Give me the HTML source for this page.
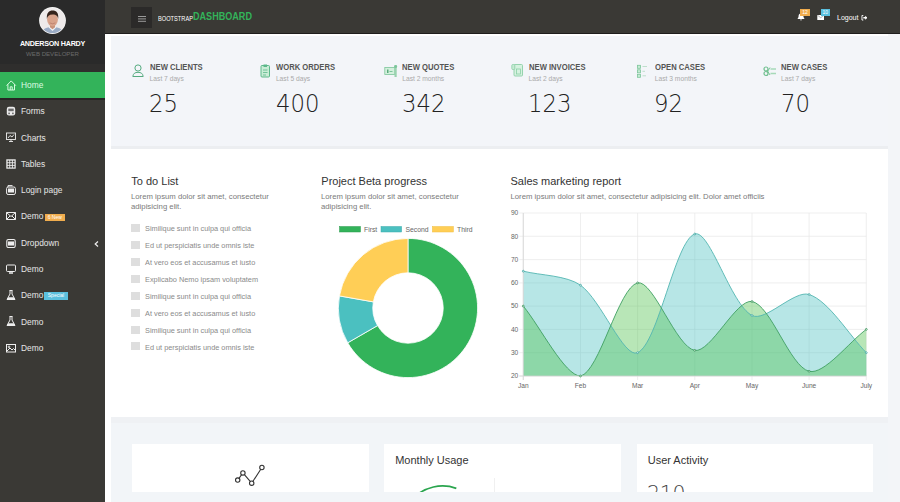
<!DOCTYPE html>
<html><head><meta charset="utf-8"><title>Dashboard</title><style>
*{box-sizing:border-box;margin:0;padding:0}
html,body{width:900px;height:502px;overflow:hidden}
body{position:relative;background:#f3f5f8;font-family:"Liberation Sans",Arial,sans-serif;color:#333}
.a{position:absolute;white-space:nowrap;line-height:1}
.mi{position:absolute;left:0;width:105px;height:26px}
.mt{position:absolute;left:21px;font-size:8.4px;color:#e8e8e8;white-space:nowrap;line-height:1}
.mi svg{position:absolute;left:6px}
svg{display:block}
.badge{position:absolute;color:#fff;font-size:5px;line-height:7.5px;height:7.5px;text-align:center}
.sh{position:absolute;font-size:9px;font-weight:bold;color:#555;white-space:nowrap;line-height:1;transform-origin:0 0}
.ss{position:absolute;font-size:6.7px;color:#aaa;white-space:nowrap;line-height:1}
.sn{position:absolute;font-family:"DejaVu Sans",sans-serif;font-weight:200;font-size:24.5px;color:#222;white-space:nowrap;line-height:1;transform-origin:0 0}
.ct{position:absolute;font-size:11px;color:#333;white-space:nowrap;line-height:1}
.cp{position:absolute;font-size:7.75px;color:#7a7a7a;line-height:10.5px;white-space:nowrap}
.td{position:absolute;font-size:7.35px;color:#8a8a8a;white-space:nowrap;line-height:1}
.cb{position:absolute;width:8.4px;height:8px;background:#dedede}
.bc{position:absolute;top:444px;height:48px;background:#fff}
</style></head><body>
<div class="a" style="left:0;top:0;width:105px;height:502px;background:#3a3935"></div>
<div class="a" style="left:0;top:0;width:105px;height:64px;background:#2a2a2a"></div>
<svg class="a" style="left:39px;top:7px" width="27" height="27" viewBox="0 0 27 27">
 <defs><clipPath id="av"><circle cx="13.5" cy="13.5" r="12.6"/></clipPath></defs>
 <circle cx="13.5" cy="13.5" r="13.4" fill="#f4f4f4"/>
 <g clip-path="url(#av)">
  <rect width="27" height="27" fill="#eeeaea"/>
  <path d="M2.5 27 C3.5 21.5 7.5 20 13.5 20 C19.5 20 23.5 21.5 24.5 27 Z" fill="#9aabc4"/>
  <path d="M9.5 20.2 L13.5 24 L17.5 20.2 L16 19.6 L13.5 21.5 L11 19.6 Z" fill="#f2f2f4"/>
  <path d="M10.8 17 L16.2 17 L16 20.3 L13.5 22.3 L11 20.3 Z" fill="#c99279"/>
  <ellipse cx="13.5" cy="12.6" rx="5.4" ry="6.6" fill="#d9a38b"/>
  <path d="M7.9 12 C7.4 6 10 3.6 13.6 3.6 C17.4 3.6 19.8 6 19.2 12 C18.6 9 17.6 7.8 13.5 7.6 C10 7.8 8.6 9 7.9 12 Z" fill="#35241c"/>
  <path d="M10.6 15.9 Q13.5 17.6 16.4 15.9" fill="none" stroke="#b07060" stroke-width="0.6"/>
 </g>
</svg>
<div class="a" style="left:0;width:105px;text-align:center;top:40.2px;font-size:7.2px;font-weight:bold;color:#fff;letter-spacing:-0.25px">ANDERSON HARDY</div>
<div class="a" style="left:0;width:105px;text-align:center;top:51.4px;font-size:6.1px;color:#6a6a6a">WEB DEVELOPER</div>
<div class="a" style="left:0;top:64px;width:105px;height:8px;background:#2f2e2d"></div>
<div class="a" style="left:0;top:72px;width:105px;height:26px;background:#33b35a"></div>
<div class="a" style="left:0;top:98px;width:105px;height:1.5px;background:#262624"></div>
<div class="a" style="left:6px;top:79.7px"><svg width="11" height="11" viewBox="0 0 11 11" fill="none" stroke="#d8fbe2" stroke-width="1"><path d="M0.6 5.6 L5.2 0.9 L9.8 5.6 M1.9 4.4 V10 H8.5 V4.4 M4.2 10 V6.8 H6.2 V10"/></svg></div>
<div class="mt" style="top:80.9px;color:#dafbe2">Home</div>
<div class="a" style="left:6px;top:106.0px"><svg width="10" height="10" viewBox="0 0 10 10"><rect x="0.8" y="0.8" width="8.4" height="8.6" rx="2.2" fill="#ececec"/><rect x="2.3" y="2.6" width="5.4" height="2.6" fill="#6a6a6a"/><rect x="2.3" y="6.6" width="1.6" height="1.6" fill="#6a6a6a"/><rect x="6.1" y="6.6" width="1.6" height="1.6" fill="#6a6a6a"/></svg></div>
<div class="mt" style="top:107.2px;color:#e6e6e6">Forms</div>
<div class="a" style="left:6px;top:132.3px"><svg width="10" height="10" viewBox="0 0 10 10" fill="none" stroke="#eee" stroke-width="0.9"><rect x="0.5" y="1" width="9" height="6.5"/><path d="M2 6 L4 3.5 L6 5 L8 2.5 M5 7.5 V9.5 M3 9.5 H7"/></svg></div>
<div class="mt" style="top:133.5px;color:#e6e6e6">Charts</div>
<div class="a" style="left:6px;top:158.6px"><svg width="10" height="10" viewBox="0 0 10 10"><rect x="0.3" y="0.3" width="9.4" height="9.4" fill="#eee"/><rect x="1.6" y="1.6" width="1.7" height="1.7" fill="#3a3935"/><rect x="1.6" y="4.2" width="1.7" height="1.7" fill="#3a3935"/><rect x="1.6" y="6.8" width="1.7" height="1.7" fill="#3a3935"/><rect x="4.2" y="1.6" width="1.7" height="1.7" fill="#3a3935"/><rect x="4.2" y="4.2" width="1.7" height="1.7" fill="#3a3935"/><rect x="4.2" y="6.8" width="1.7" height="1.7" fill="#3a3935"/><rect x="6.8" y="1.6" width="1.7" height="1.7" fill="#3a3935"/><rect x="6.8" y="4.2" width="1.7" height="1.7" fill="#3a3935"/><rect x="6.8" y="6.8" width="1.7" height="1.7" fill="#3a3935"/></svg></div>
<div class="mt" style="top:159.8px;color:#e6e6e6">Tables</div>
<div class="a" style="left:6px;top:184.9px"><svg width="10" height="10" viewBox="0 0 10 10" fill="none" stroke="#eee" stroke-width="1"><rect x="0.6" y="2" width="8.8" height="7.5" rx="1.5"/><rect x="2.5" y="4" width="5" height="3" fill="#eee"/><path d="M2 2 V0.6 H6.5"/></svg></div>
<div class="mt" style="top:186.1px;color:#e6e6e6">Login page</div>
<div class="a" style="left:6px;top:211.2px"><svg width="10" height="10" viewBox="0 0 10 10" fill="none" stroke="#eee" stroke-width="1"><path d="M0.5 1.5 H9.5 V8.5 H0.5 Z M0.5 1.5 L5 5.5 L9.5 1.5 M0.5 8.5 L4 5 M9.5 8.5 L6 5"/></svg></div>
<div class="mt" style="top:212.4px;color:#e6e6e6">Demo</div>
<div class="badge" style="left:45px;top:213.6px;width:19.5px;background:#f0ad4e">6 New</div>
<div class="a" style="left:6px;top:237.5px"><svg width="10" height="10" viewBox="0 0 10 10" fill="none" stroke="#eee" stroke-width="1.1"><rect x="0.8" y="1.5" width="8.4" height="8" rx="1.5"/><rect x="2.5" y="4" width="5" height="3" fill="#eee"/></svg></div>
<div class="mt" style="top:238.7px;color:#e6e6e6">Dropdown</div>
<svg class="a" style="left:94px;top:240.6px" width="5" height="6" viewBox="0 0 5 6" fill="none" stroke="#eee" stroke-width="1.2"><path d="M4 0.5 L1.2 3 L4 5.5"/></svg>
<div class="a" style="left:6px;top:263.8px"><svg width="10" height="10" viewBox="0 0 10 10" fill="none" stroke="#eee" stroke-width="1"><rect x="0.5" y="1" width="9" height="6.5" rx="1"/><path d="M3 9 H7" stroke-width="1.5"/></svg></div>
<div class="mt" style="top:265.0px;color:#e6e6e6">Demo</div>
<div class="a" style="left:6px;top:290.1px"><svg width="10" height="10" viewBox="0 0 10 10"><path d="M3.5 0.5 H6.5 M4 0.5 V4 L1 9.5 H9 L6 4 V0.5" fill="none" stroke="#eee" stroke-width="1"/><path d="M2.3 7.2 H7.7 L9 9.5 H1 Z" fill="#eee"/></svg></div>
<div class="mt" style="top:291.3px;color:#e6e6e6">Demo</div>
<div class="badge" style="left:44.3px;top:292.3px;width:23.4px;background:#5bc0de">Special</div>
<div class="a" style="left:6px;top:316.4px"><svg width="10" height="10" viewBox="0 0 10 10"><path d="M3.5 0.5 H6.5 M4 0.5 V4 L1 9.5 H9 L6 4 V0.5" fill="none" stroke="#eee" stroke-width="1"/><path d="M2.3 7.2 H7.7 L9 9.5 H1 Z" fill="#eee"/></svg></div>
<div class="mt" style="top:317.6px;color:#e6e6e6">Demo</div>
<div class="a" style="left:6px;top:342.7px"><svg width="10" height="10" viewBox="0 0 10 10" fill="none" stroke="#eee" stroke-width="1"><rect x="0.5" y="1.5" width="9" height="7.5"/><path d="M1 8 L4 5 L6 7 L7.5 5.5 L9 7"/><circle cx="3" cy="3.8" r="0.8"/></svg></div>
<div class="mt" style="top:343.9px;color:#e6e6e6">Demo</div>
<div class="a" style="left:105px;top:0;width:795px;height:34px;background:#3a3935"></div>
<div class="a" style="left:105px;top:33px;width:795px;height:1.3px;background:#1f1e1d"></div>
<div class="a" style="left:131px;top:7px;width:21px;height:21px;background:#2b2a29"></div>
<div class="a" style="left:138px;top:15.5px;width:8px;height:1.2px;background:#9a9a9a;box-shadow:0 2.4px 0 #9a9a9a,0 4.8px 0 #9a9a9a"></div>
<div class="a" style="left:157.5px;top:15px;font-size:7px;color:#fff;transform:scaleX(0.81);transform-origin:0 0">BOOTSTRAP</div>
<div class="a" style="left:192.5px;top:12.4px;font-size:10.4px;font-weight:bold;color:#33b35a;transform:scaleX(0.873);transform-origin:0 0">DASHBOARD</div>
<svg class="a" style="left:796.5px;top:13px" width="8" height="8" viewBox="0 0 8 8"><path d="M4 0.5 C2 0.5 1.5 2 1.5 4 L0.5 6 H7.5 L6.5 4 C6.5 2 6 0.5 4 0.5 Z M3 6.5 H5 L4 7.8 Z" fill="#fff"/></svg>
<div class="badge" style="left:800px;top:8.8px;width:10px;height:7.2px;background:#f0ad4e">12</div>
<svg class="a" style="left:816.5px;top:15px" width="7.5" height="5.2" viewBox="0 0 8 6"><rect width="8" height="6" fill="#fff"/><path d="M0 0 L4 3.2 L8 0" fill="none" stroke="#888" stroke-width="0.7"/></svg>
<div class="badge" style="left:820.5px;top:8.8px;width:9.5px;height:7.2px;background:#5bc0de">10</div>
<div class="a" style="left:837px;top:13.9px;font-size:7px;color:#fff">Logout</div>
<svg class="a" style="left:860.5px;top:15px" width="6.5" height="5.5" viewBox="0 0 7 6"><path d="M2.5 0.5 H1 V5.5 H2.5" fill="none" stroke="#fff" stroke-width="1"/><path d="M2.5 2.2 H4.5 V0.7 L7 3 L4.5 5.3 V3.8 H2.5 Z" fill="#fff"/></svg>
<div class="a" style="left:105px;top:34.3px;width:795px;height:468px;background:#f3f5f8"></div>
<div class="a" style="left:105px;top:34.3px;width:6px;height:468px;background:#fff"></div>
<div class="a" style="left:105px;top:34.3px;width:783px;height:1.7px;background:#fff"></div>
<div class="a" style="left:111px;top:36px;width:777px;height:110px;background:#f3f5f9"></div>
<div class="a" style="left:111px;top:146px;width:777px;height:3px;background:#eceef1"></div>
<div class="a" style="left:132.0px;top:64px"><svg width="13" height="14" viewBox="0 0 13 14" fill="none" stroke="#55ab80" stroke-width="1"><circle cx="6" cy="4" r="3.1"/><path d="M0.8 12.5 C1.2 9.5 3 8.3 6 8.3 C9 8.3 10.8 9.5 11.2 12.5 Z"/></svg></div>
<div class="sh" style="left:149.6px;top:63.0px;transform:scaleX(0.85)">NEW CLIENTS</div>
<div class="ss" style="left:149.6px;top:76.2px">Last 7 days</div>
<div class="sn" style="left:149.2px;top:91.9px;transform:scaleX(0.93)">25</div>
<div class="a" style="left:259.5px;top:64px"><svg width="11" height="14" viewBox="0 0 11 14"><rect x="1" y="1.5" width="8.5" height="11.5" rx="1" fill="#c9ecd6" stroke="#5cb88a" stroke-width="1"/><rect x="3.5" y="0.5" width="3.5" height="2.5" fill="#5cb88a"/><path d="M3 6 H7.5 M3 8.5 H7.5 M3 11 H6" stroke="#5cb88a" stroke-width="0.8"/></svg></div>
<div class="sh" style="left:275.9px;top:63.0px;transform:scaleX(0.85)">WORK ORDERS</div>
<div class="ss" style="left:275.9px;top:76.2px">Last 5 days</div>
<div class="sn" style="left:275.5px;top:91.9px;transform:scaleX(0.93)">400</div>
<div class="a" style="left:383.6px;top:64px"><svg width="14" height="14" viewBox="0 0 14 14"><rect x="0.8" y="3.5" width="10" height="7" fill="#d3f0dd" stroke="#7cc59b" stroke-width="0.8"/><rect x="3" y="5.5" width="1.5" height="3.5" fill="#5aa97c"/><path d="M5.5 7.5 H8.5" stroke="#7cc59b"/><rect x="10.5" y="1" width="2.2" height="12" fill="#9ad3b0"/><circle cx="11.6" cy="2.5" r="1.5" fill="#7cc59b"/></svg></div>
<div class="sh" style="left:402.2px;top:63.0px;transform:scaleX(0.85)">NEW QUOTES</div>
<div class="ss" style="left:402.2px;top:76.2px">Last 2 months</div>
<div class="sn" style="left:401.8px;top:91.9px;transform:scaleX(0.93)">342</div>
<div class="a" style="left:510.9px;top:63px"><svg width="13" height="14" viewBox="0 0 13 14"><rect x="3" y="1.5" width="8.5" height="11.5" rx="1" fill="#d6f2e0" stroke="#8ccfa7" stroke-width="0.9"/><rect x="0.8" y="1.5" width="3" height="5" rx="1" fill="#c6ebd4" stroke="#8ccfa7" stroke-width="0.8"/><rect x="5.5" y="6" width="4" height="5" fill="none" stroke="#8ccfa7" stroke-width="0.8"/></svg></div>
<div class="sh" style="left:528.5px;top:63.0px;transform:scaleX(0.85)">NEW INVOICES</div>
<div class="ss" style="left:528.5px;top:76.2px">Last 2 days</div>
<div class="sn" style="left:528.1px;top:91.9px;transform:scaleX(0.93)">123</div>
<div class="a" style="left:637.2px;top:64px"><svg width="14" height="14" viewBox="0 0 14 14"><rect x="0.5" y="1.3" width="3" height="3" fill="#c6ebd4" stroke="#7cc59b" stroke-width="0.8"/><rect x="0.5" y="5.8" width="3" height="3" fill="#c6ebd4" stroke="#7cc59b" stroke-width="0.8"/><rect x="0.5" y="10.3" width="3" height="3" fill="#c6ebd4" stroke="#7cc59b" stroke-width="0.8"/><path d="M5.5 2.5 H10 M5.5 7.3 H8 M5.5 11.8 H9" stroke="#b8dcc6" stroke-width="0.9"/></svg></div>
<div class="sh" style="left:654.8px;top:63.0px;transform:scaleX(0.85)">OPEN CASES</div>
<div class="ss" style="left:654.8px;top:76.2px">Last 3 months</div>
<div class="sn" style="left:654.4px;top:91.9px;transform:scaleX(0.93)">92</div>
<div class="a" style="left:762.5px;top:64px"><svg width="14" height="14" viewBox="0 0 14 14"><circle cx="3" cy="5" r="2" fill="none" stroke="#6fbf8f" stroke-width="1.2"/><circle cx="3" cy="9.5" r="2" fill="none" stroke="#6fbf8f" stroke-width="1.2"/><path d="M4 8.5 L7 3.5 M4 6 L7 11" stroke="#6fbf8f" stroke-width="0.9"/><path d="M7.5 5 H13 M7.5 9.5 H13" stroke="#a6d9b9" stroke-width="1.4"/></svg></div>
<div class="sh" style="left:781.1px;top:63.0px;transform:scaleX(0.85)">NEW CASES</div>
<div class="ss" style="left:781.1px;top:76.2px">Last 7 days</div>
<div class="sn" style="left:780.7px;top:91.9px;transform:scaleX(0.93)">70</div>
<div class="a" style="left:110px;top:149px;width:778px;height:268px;background:#fff"></div>
<div class="ct" style="left:131.3px;top:175.8px">To do List</div>
<div class="cp" style="left:131px;top:191.5px">Lorem ipsum dolor sit amet, consectetur<br>adipisicing elit.</div>
<div class="cb" style="left:131.4px;top:224.3px"></div>
<div class="td" style="left:145px;top:225.4px">Similique sunt in culpa qui officia</div>
<div class="cb" style="left:131.4px;top:241.2px"></div>
<div class="td" style="left:145px;top:242.3px">Ed ut perspiciatis unde omnis iste</div>
<div class="cb" style="left:131.4px;top:258.0px"></div>
<div class="td" style="left:145px;top:259.1px">At vero eos et accusamus et iusto</div>
<div class="cb" style="left:131.4px;top:274.9px"></div>
<div class="td" style="left:145px;top:276.0px">Explicabo Nemo ipsam voluptatem</div>
<div class="cb" style="left:131.4px;top:291.8px"></div>
<div class="td" style="left:145px;top:292.9px">Similique sunt in culpa qui officia</div>
<div class="cb" style="left:131.4px;top:308.7px"></div>
<div class="td" style="left:145px;top:309.8px">At vero eos et accusamus et iusto</div>
<div class="cb" style="left:131.4px;top:325.5px"></div>
<div class="td" style="left:145px;top:326.6px">Similique sunt in culpa qui officia</div>
<div class="cb" style="left:131.4px;top:342.4px"></div>
<div class="td" style="left:145px;top:343.5px">Ed ut perspiciatis unde omnis iste</div>
<div class="ct" style="left:321.3px;top:175.8px">Project Beta progress</div>
<div class="cp" style="left:321px;top:191.5px">Lorem ipsum dolor sit amet, consectetur<br>adipisicing elit.</div>
<div class="ct" style="left:510.5px;top:175.8px">Sales marketing report</div>
<div class="cp" style="left:510.5px;top:191.5px">Lorem ipsum dolor sit amet, consectetur adipisicing elit. Dolor amet officiis</div>
<svg class="a" style="left:0;top:0" width="900" height="502"><path d="M408.00 238.40 A69.6 69.6 0 1 1 347.72 342.80 L377.52 325.60 A35.2 35.2 0 1 0 408.00 272.80 Z" fill="#33b35a" stroke="#fff" stroke-width="0.8"/><path d="M347.72 342.80 A69.6 69.6 0 0 1 339.46 295.91 L373.33 301.89 A35.2 35.2 0 0 0 377.52 325.60 Z" fill="#4bc0c0" stroke="#fff" stroke-width="0.8"/><path d="M339.46 295.91 A69.6 69.6 0 0 1 408.00 238.40 L408.00 272.80 A35.2 35.2 0 0 0 373.33 301.89 Z" fill="#ffce56" stroke="#fff" stroke-width="0.8"/><rect x="339.5" y="226.5" width="21" height="5.5" fill="#33b35a" stroke="#2a9a4c" stroke-width="0.5"/><rect x="381" y="226.5" width="20.6" height="5.5" fill="#4bc0c0" stroke="#3aaaaa" stroke-width="0.5"/><rect x="432.4" y="226.5" width="21" height="5.5" fill="#ffce56" stroke="#f0bd40" stroke-width="0.5"/><g font-family="Liberation Sans, Arial, sans-serif" font-size="6.8" fill="#666"><text x="364" y="231.8">First</text><text x="405.5" y="231.8">Second</text><text x="457" y="231.8">Third</text></g></svg>
<svg class="a" style="left:0;top:0" width="900" height="502"><line x1="523.3" y1="213.0" x2="523.3" y2="380.0" stroke="#e8e8e8" stroke-width="0.7"/><line x1="580.5" y1="213.0" x2="580.5" y2="380.0" stroke="#e8e8e8" stroke-width="0.7"/><line x1="637.6" y1="213.0" x2="637.6" y2="380.0" stroke="#e8e8e8" stroke-width="0.7"/><line x1="694.8" y1="213.0" x2="694.8" y2="380.0" stroke="#e8e8e8" stroke-width="0.7"/><line x1="752.0" y1="213.0" x2="752.0" y2="380.0" stroke="#e8e8e8" stroke-width="0.7"/><line x1="809.1" y1="213.0" x2="809.1" y2="380.0" stroke="#e8e8e8" stroke-width="0.7"/><line x1="866.3" y1="213.0" x2="866.3" y2="380.0" stroke="#e8e8e8" stroke-width="0.7"/><line x1="519.3" y1="376.0" x2="866.3" y2="376.0" stroke="#e8e8e8" stroke-width="0.7"/><line x1="519.3" y1="352.7" x2="866.3" y2="352.7" stroke="#e8e8e8" stroke-width="0.7"/><line x1="519.3" y1="329.4" x2="866.3" y2="329.4" stroke="#e8e8e8" stroke-width="0.7"/><line x1="519.3" y1="306.1" x2="866.3" y2="306.1" stroke="#e8e8e8" stroke-width="0.7"/><line x1="519.3" y1="282.9" x2="866.3" y2="282.9" stroke="#e8e8e8" stroke-width="0.7"/><line x1="519.3" y1="259.6" x2="866.3" y2="259.6" stroke="#e8e8e8" stroke-width="0.7"/><line x1="519.3" y1="236.3" x2="866.3" y2="236.3" stroke="#e8e8e8" stroke-width="0.7"/><line x1="519.3" y1="213.0" x2="866.3" y2="213.0" stroke="#e8e8e8" stroke-width="0.7"/><path d="M523.3 271.2 C540.4 275.4 566.8 275.4 580.5 285.2 C601.1 299.9 623.9 358.9 637.6 352.7 C658.2 343.5 675.3 240.3 694.8 234.0 C709.6 229.1 730.7 304.2 752.0 315.5 C765.0 322.4 794.5 289.7 809.1 294.5 C828.8 300.9 849.1 335.2 866.3 352.7 L866.3 376.0 L523.3 376.0 Z" fill="rgba(75,192,192,0.4)"/><path d="M523.3 306.1 C540.4 327.1 565.0 376.0 580.5 376.0 C599.3 372.2 618.7 287.1 637.6 282.9 C653.0 279.4 676.3 347.4 694.8 350.4 C710.6 353.0 736.4 298.6 752.0 301.5 C770.7 304.9 789.9 366.6 809.1 371.3 C824.2 375.0 849.1 342.0 866.3 329.4 L866.3 376.0 L523.3 376.0 Z" fill="rgba(77,193,75,0.4)"/><path d="M523.3 271.2 C540.4 275.4 566.8 275.4 580.5 285.2 C601.1 299.9 623.9 358.9 637.6 352.7 C658.2 343.5 675.3 240.3 694.8 234.0 C709.6 229.1 730.7 304.2 752.0 315.5 C765.0 322.4 794.5 289.7 809.1 294.5 C828.8 300.9 849.1 335.2 866.3 352.7" fill="none" stroke="#52b5b1" stroke-width="0.9"/><path d="M523.3 306.1 C540.4 327.1 565.0 376.0 580.5 376.0 C599.3 372.2 618.7 287.1 637.6 282.9 C653.0 279.4 676.3 347.4 694.8 350.4 C710.6 353.0 736.4 298.6 752.0 301.5 C770.7 304.9 789.9 366.6 809.1 371.3 C824.2 375.0 849.1 342.0 866.3 329.4" fill="none" stroke="#3f9f62" stroke-width="0.9"/><line x1="523.3" y1="213.0" x2="523.3" y2="380.0" stroke="#d6d6d6" stroke-width="0.8"/><line x1="519.3" y1="376.0" x2="866.3" y2="376.0" stroke="#d6d6d6" stroke-width="0.8"/><circle cx="523.3" cy="271.2" r="0.9" fill="#fff" stroke="#3aa3a0" stroke-width="0.8"/><circle cx="580.5" cy="285.2" r="0.9" fill="#fff" stroke="#3aa3a0" stroke-width="0.8"/><circle cx="637.6" cy="352.7" r="0.9" fill="#fff" stroke="#3aa3a0" stroke-width="0.8"/><circle cx="694.8" cy="234.0" r="0.9" fill="#fff" stroke="#3aa3a0" stroke-width="0.8"/><circle cx="752.0" cy="315.5" r="0.9" fill="#fff" stroke="#3aa3a0" stroke-width="0.8"/><circle cx="809.1" cy="294.5" r="0.9" fill="#fff" stroke="#3aa3a0" stroke-width="0.8"/><circle cx="866.3" cy="352.7" r="0.9" fill="#fff" stroke="#3aa3a0" stroke-width="0.8"/><circle cx="523.3" cy="306.1" r="0.9" fill="#fff" stroke="#2f8f50" stroke-width="0.8"/><circle cx="580.5" cy="376.0" r="0.9" fill="#fff" stroke="#2f8f50" stroke-width="0.8"/><circle cx="637.6" cy="282.9" r="0.9" fill="#fff" stroke="#2f8f50" stroke-width="0.8"/><circle cx="694.8" cy="350.4" r="0.9" fill="#fff" stroke="#2f8f50" stroke-width="0.8"/><circle cx="752.0" cy="301.5" r="0.9" fill="#fff" stroke="#2f8f50" stroke-width="0.8"/><circle cx="809.1" cy="371.3" r="0.9" fill="#fff" stroke="#2f8f50" stroke-width="0.8"/><circle cx="866.3" cy="329.4" r="0.9" fill="#fff" stroke="#2f8f50" stroke-width="0.8"/><g font-family="Liberation Sans, Arial, sans-serif" font-size="6.6" fill="#666"><text x="518.3" y="378.3" text-anchor="end">20</text><text x="518.3" y="355.0" text-anchor="end">30</text><text x="518.3" y="331.7" text-anchor="end">40</text><text x="518.3" y="308.4" text-anchor="end">50</text><text x="518.3" y="285.2" text-anchor="end">60</text><text x="518.3" y="261.9" text-anchor="end">70</text><text x="518.3" y="238.6" text-anchor="end">80</text><text x="518.3" y="215.3" text-anchor="end">90</text><text x="523.3" y="388" text-anchor="middle">Jan</text><text x="580.5" y="388" text-anchor="middle">Feb</text><text x="637.6" y="388" text-anchor="middle">Mar</text><text x="694.8" y="388" text-anchor="middle">Apr</text><text x="752.0" y="388" text-anchor="middle">May</text><text x="809.1" y="388" text-anchor="middle">June</text><text x="866.3" y="388" text-anchor="middle">July</text></g></svg>
<div class="a" style="left:111px;top:417px;width:777px;height:85px;background:#f2f5f8"></div>
<div class="a" style="left:111px;top:417px;width:777px;height:6px;background:#eff1f4"></div>
<div class="bc" style="left:132px;width:237px"></div>
<svg class="a" style="left:0;top:0" width="900" height="502" fill="none" stroke="#333" stroke-width="1.1"><path d="M237.7 480.1 L242.9 472.9 L251.7 483.2 L261.9 467.5"/><circle cx="237.7" cy="480.1" r="2.2" fill="#fff"/><circle cx="242.9" cy="472.9" r="2.2" fill="#fff"/><circle cx="251.7" cy="483.2" r="2.2" fill="#fff"/><circle cx="261.9" cy="467.5" r="2.2" fill="#fff"/></svg>
<div class="bc" style="left:384.4px;width:236.5px;overflow:hidden"><div class="ct" style="left:10.8px;top:10.8px">Monthly Usage</div><div style="position:absolute;left:109.6px;top:34px;width:1px;height:14px;background:#f0f0f0"></div></div>
<svg class="a" style="left:384.4px;top:444px" width="236.5" height="47.5" viewBox="384.4 444 236.5 47.5"><path d="M413.66 498.16 A41.5 41.5 0 0 1 456.72 488.33" fill="none" stroke="#2aa54e" stroke-width="1.7"/></svg>
<div class="bc" style="left:636.7px;width:236.6px;overflow:hidden"><div class="ct" style="left:11px;top:11px">User Activity</div><div class="sn" style="left:10.3px;top:39.8px;color:#444;font-size:20.5px;letter-spacing:-0.3px">210</div></div>
</body></html>
